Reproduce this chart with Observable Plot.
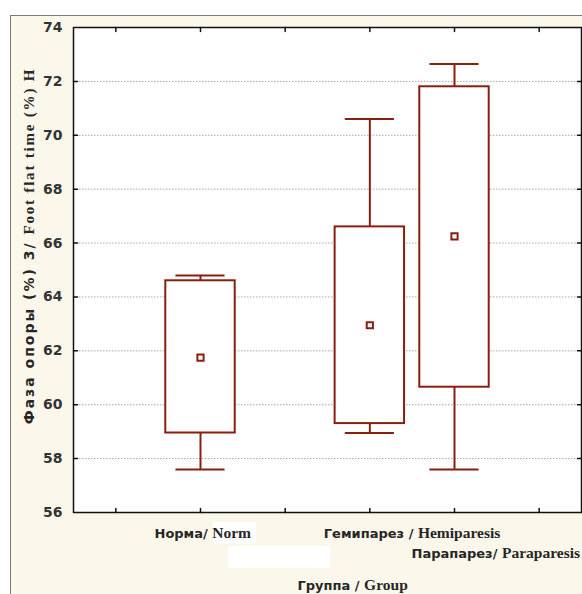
<!DOCTYPE html>
<html><head><meta charset="utf-8">
<script src="https://cdn.jsdelivr.net/npm/d3@7"></script>
<script src="https://cdn.jsdelivr.net/npm/@observablehq/plot@0.6"></script>
<style>
html,body{margin:0;padding:0;background:#fff;}
#wrap{position:relative;width:582px;height:594px;overflow:hidden;}
#panel{position:absolute;left:10px;top:15px;width:600px;height:600px;border:1px solid #7a7a7a;background:#fbf7ea;}
.patch{position:absolute;background:#fff;}
#chart{position:absolute;left:0;top:0;}
</style></head><body>
<div id="wrap"><div id="panel"></div>
<div class="patch" style="left:213px;top:522px;width:43px;height:22px"></div>
<div class="patch" style="left:228px;top:546px;width:102px;height:22px"></div>
<div id="chart"></div></div>
<script>
// ---- data ----
const groups = ["Норма/ Norm", "Гемипарез / Hemiparesis", "Парапарез/ Paraparesis"];
const positions = [2, 4, 5];
const whiskerLow = [57.6, 58.95, 57.6];
const boxLow = [58.95, 59.3, 60.65];
const means = [61.75, 62.95, 66.25];
const boxHigh = [64.6, 66.6, 71.8];
const whiskerHigh = [64.8, 70.6, 72.65];
const yTickValues = [56, 58, 60, 62, 64, 66, 68, 70, 72, 74];
const gridValues = [58, 60, 62, 64, 66, 68, 70, 72];
const xTickValues = [1, 2, 3, 4, 5, 6];
const xTitle = "Группа / Group";
const yTitle = "Фаза опоры (%) 3/ Foot flat time (%) Н";

const data = groups.map((g, i) => ({
  group: g, pos: positions[i], wlo: whiskerLow[i], q1: boxLow[i],
  mean: means[i], q3: boxHigh[i], whi: whiskerHigh[i]
}));
const line1 = data.slice(0, 2);
const line2 = data.slice(2);

const boxHalf = 0.41, capHalf = 0.29;
const red = "#8a1f10";
const ink = "#262626";
const tick = (opts) => Plot.vector(opts.values, {...opts, length: 4, r: 0, anchor: "start", stroke: "#111", strokeWidth: 1.5});

const svg = Plot.plot({
  width: 582, height: 594,
  marginLeft: 73, marginRight: 1, marginTop: 27, marginBottom: 82,
  x: {type: "linear", domain: [0.5, 6.5], axis: null},
  y: {domain: [56, 74], axis: null},
  style: {background: "transparent", overflow: "visible"},
  marks: [
    Plot.frame({fill: "white"}),
    Plot.ruleY(gridValues, {stroke: "#a8a8a8", strokeDasharray: "1.5,1.5", strokeWidth: 1}),
    Plot.ruleX(data, {x: "pos", y1: "wlo", y2: "q1", stroke: red, strokeWidth: 2}),
    Plot.ruleX(data, {x: "pos", y1: "q3", y2: "whi", stroke: red, strokeWidth: 2}),
    Plot.ruleY(data, {y: "wlo", x1: d => d.pos - capHalf, x2: d => d.pos + capHalf, stroke: red, strokeWidth: 2}),
    Plot.ruleY(data, {y: "whi", x1: d => d.pos - capHalf, x2: d => d.pos + capHalf, stroke: red, strokeWidth: 2}),
    Plot.rect(data, {x1: d => d.pos - boxHalf, x2: d => d.pos + boxHalf, y1: "q1", y2: "q3", fill: "white", stroke: red, strokeWidth: 2}),
    Plot.dot(data, {x: "pos", y: "mean", symbol: "square", r: 3.5, fill: "white", stroke: red, strokeWidth: 2}),
    Plot.frame({stroke: "#111", strokeWidth: 1.5}),
    // inward ticks
    tick({values: gridValues, y: d => d, frameAnchor: "left", rotate: 90}),
    tick({values: gridValues, y: d => d, frameAnchor: "right", rotate: -90}),
    tick({values: xTickValues, x: d => d, frameAnchor: "bottom", rotate: 0}),
    tick({values: xTickValues, x: d => d, frameAnchor: "top", rotate: 180}),
    Plot.axisY(yTickValues, {anchor: "left", tickSize: 0, tickPadding: 11, fontSize: 14, fontWeight: "bold",
      fontFamily: "DejaVu Sans", fill: "#333", label: null}),
    // category labels
    Plot.text(line1, {x: "pos", text: "group", frameAnchor: "bottom", textAnchor: "start", lineAnchor: "bottom", dx: -46, dy: 25, fontSize: 13, fill: ink}),
    Plot.text(line2, {x: "pos", text: "group", frameAnchor: "bottom", textAnchor: "start", lineAnchor: "bottom", dx: -43, dy: 45, fontSize: 13, fill: ink}),
    Plot.text([xTitle], {text: d => d, frameAnchor: "bottom", textAnchor: "start", lineAnchor: "bottom", dx: -30, dy: 77, fontSize: 13, fill: ink}),
    Plot.text([yTitle], {text: d => d, frameAnchor: "left", textAnchor: "middle", lineAnchor: "bottom", rotate: -90, dx: -40, dy: -24, fontSize: 14, fill: ink})
  ]
});

// mixed fonts: Cyrillic part in sans, Latin part in serif
d3.select(svg).selectAll("text").filter(function () {
  return /[A-Za-z]/.test(this.textContent) && /[А-Яа-я]/.test(this.textContent);
}).each(function () {
  const s = this.textContent;
  const k = s.search(/[A-Za-z]/);
  const isY = s === yTitle;
  const el = d3.select(this).style("white-space", "pre");
  el.text("");
  el.append("tspan").attr("font-family", "DejaVu Sans").attr("font-weight", "bold")
    .attr("font-size", isY ? 14 : 13).attr("letter-spacing", isY ? 2 : 0).text(s.slice(0, k));
  el.append("tspan").attr("font-family", "Liberation Serif").attr("font-weight", "bold")
    .attr("font-size", isY ? 15 : 15.5).attr("letter-spacing", isY ? 1.8 : 0).text(s.slice(k));
});

document.getElementById("chart").append(svg);
</script>
</body></html>
